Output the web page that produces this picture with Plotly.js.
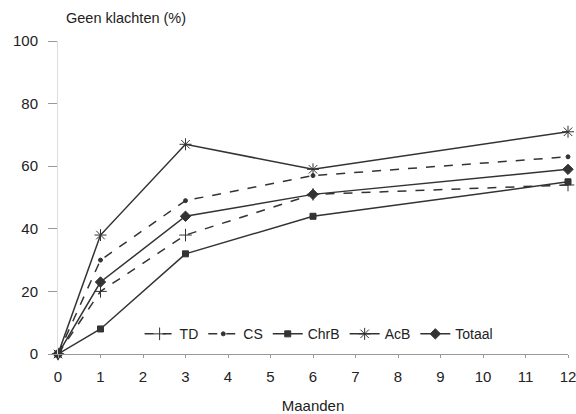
<!DOCTYPE html>
<html><head><meta charset="utf-8">
<script src="https://cdn.plot.ly/plotly-3.0.1.min.js"></script>
<style>html,body{margin:0;padding:0;background:#fff}#c{width:576px;height:414px}</style>
</head><body><div id="c"></div>
<script>
const months = [0, 1, 3, 6, 12];
const TD = [0, 20, 38, 51, 54];
const CS = [0, 30, 49, 57, 63];
const ChrB = [0, 8, 32, 44, 55];
const AcB = [0, 38, 67, 59, 71];
const Totaal = [0, 23, 44, 51, 59];
const xTicks = [0,1,2,3,4,5,6,7,8,9,10,11,12];
const yTicks = [0,20,40,60,80,100];

const col = '#333';
function tr(name, y, dash, sym, size){
  return {x: months, y: y, name: name, type: 'scatter', mode: 'lines+markers', cliponaxis: false,
    line: {color: col, width: 1.5, dash: dash},
    marker: {symbol: sym, size: size, color: col, line: {color: col, width: 1}}};
}
const data = [
  tr('TD', TD, 'dash', 'cross-thin-open', 9),
  tr('CS', CS, 'dash', 'circle', 4),
  tr('ChrB', ChrB, 'solid', 'square', 6),
  tr('AcB', AcB, 'solid', 'asterisk-open', 10),
  tr('Totaal', Totaal, 'solid', 'diamond', 8)
];

const layout = {
  width: 576, height: 414,
  margin: {l: 58, r: 8, t: 41, b: 60},
  paper_bgcolor: '#fff', plot_bgcolor: '#fff',
  font: {family: 'Liberation Sans, Arial, sans-serif', size: 14, color: '#222'},
  showlegend: true,
  legend: {orientation: 'h', x: 0.16, y: 0.012, xanchor: 'left', yanchor: 'bottom',
    bgcolor: 'rgba(255,255,255,0)', font: {size: 14, color: '#222'}, itemwidth: 30, tracegroupgap: 0},
  xaxis: {range: [0, 12], tickvals: xTicks, ticktext: xTicks.map(String),
    showgrid: false, zeroline: false, showline: true, linecolor: '#999', linewidth: 1,
    ticks: 'outside', ticklen: 3, tickcolor: '#999', tickfont: {size: 15},
    ticklabelstandoff: 6, ticklabeloverflow: 'allow',
    title: {text: 'Maanden', font: {size: 15}, standoff: 18}},
  yaxis: {range: [0, 100], tickvals: yTicks, ticktext: yTicks.map(String),
    showgrid: false, zeroline: false, showline: true, linecolor: '#ddd', linewidth: 1,
    ticks: 'outside', ticklen: 9, tickcolor: '#999', tickfont: {size: 15},
    ticklabelstandoff: 7},
  annotations: [{text: 'Geen klachten (%)', xref: 'paper', yref: 'paper', x: 0.133, y: 1.0,
    yshift: 23, xanchor: 'center', yanchor: 'middle', showarrow: false, font: {size: 14.5, color: '#222'}}]
};
Plotly.newPlot('c', data, layout, {staticPlot: true});
</script></body></html>
